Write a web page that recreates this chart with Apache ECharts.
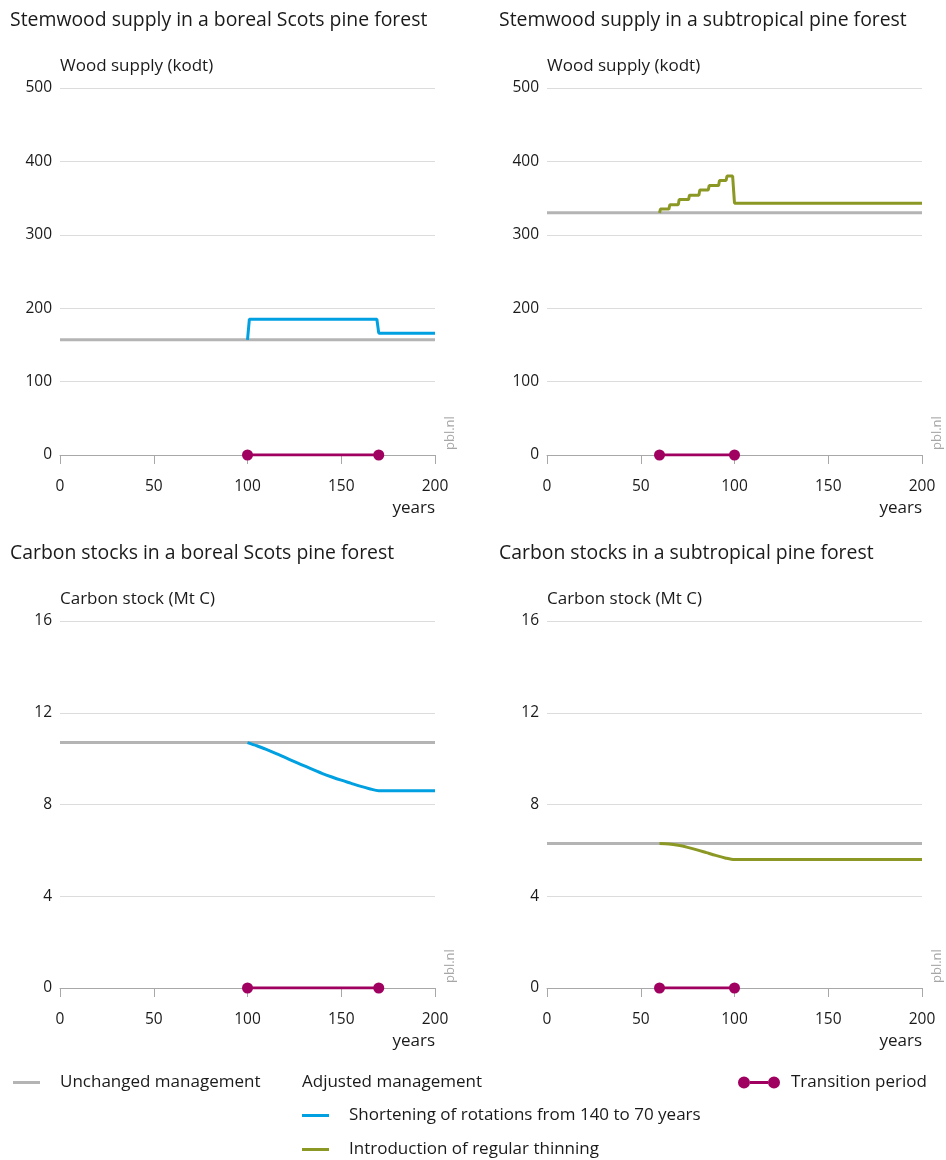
<!DOCTYPE html>
<html>
<head>
<meta charset="utf-8">
<script src="https://cdn.jsdelivr.net/npm/echarts@6/dist/echarts.min.js"></script>
<style>
html,body{margin:0;padding:0;background:#fff;}
#chart{width:946px;height:1160px;}
</style>
</head>
<body>
<div id="chart"></div>
<script>
// ---- data ----
const xTicks = [0, 50, 100, 150, 200];
const supplyTicks = [0, 100, 200, 300, 400, 500];
const carbonTicks = [0, 4, 8, 12, 16];

const titles = [
  'Stemwood supply in a boreal Scots pine forest',
  'Stemwood supply in a subtropical pine forest',
  'Carbon stocks in a boreal Scots pine forest',
  'Carbon stocks in a subtropical pine forest'
];
const seriesNames = ['Unchanged management', 'Shortening of rotations from 140 to 70 years', 'Introduction of regular thinning', 'Transition period'];

// boreal stemwood supply
const borealSupplyUnchangedYears = [0, 200];
const borealSupplyUnchangedValues = [157, 157];
const borealSupplyAdjustedYears = [100, 101, 169, 170, 200];
const borealSupplyAdjustedValues = [157, 185, 185, 166, 166];
const borealTransitionYears = [100, 170];

// subtropical stemwood supply
const subtropSupplyUnchangedYears = [0, 200];
const subtropSupplyUnchangedValues = [330, 330];
const subtropSupplyAdjustedYears = [60, 60.5, 65, 65.5, 70, 70.5, 75.5, 76, 81, 81.5, 86, 86.5, 91.5, 92, 95.5, 96, 99, 100, 200];
const subtropSupplyAdjustedValues = [330, 335, 335, 341, 341, 348, 348, 354, 354, 361, 361, 367, 367, 374, 374, 380, 380, 343, 343];
const subtropTransitionYears = [60, 100];

// boreal carbon stock
const borealCarbonUnchangedYears = [0, 200];
const borealCarbonUnchangedValues = [10.7, 10.7];
const borealCarbonAdjustedYears = [100, 105, 110, 115, 120, 125, 130, 135, 140, 145, 150, 155, 160, 165, 170, 200];
const borealCarbonAdjustedValues = [10.7, 10.56, 10.4, 10.23, 10.05, 9.87, 9.69, 9.52, 9.35, 9.2, 9.06, 8.93, 8.8, 8.69, 8.6, 8.6];

// subtropical carbon stock
const subtropCarbonUnchangedYears = [0, 200];
const subtropCarbonUnchangedValues = [6.3, 6.3];
const subtropCarbonAdjustedYears = [60, 65, 70, 75, 80, 85, 90, 95, 100, 200];
const subtropCarbonAdjustedValues = [6.3, 6.28, 6.22, 6.13, 6.02, 5.9, 5.78, 5.67, 5.6, 5.6];

// ---- styling ----
const FONT = 'Open Sans';
const C_GREY = '#b4b4b4';
const C_BLUE = '#00a0e1';
const C_GREEN = '#8c9824';
const C_MAG = '#a0005f';
const TXT = '#1a1a1a';

const zip = (xs, ys) => xs.map((x, i) => [x, ys[i]]);

const gridPos = [
  {left: 60, top: 88, width: 375, height: 367},
  {left: 547, top: 88, width: 375, height: 367},
  {left: 60, top: 621, width: 375, height: 367},
  {left: 547, top: 621, width: 375, height: 367}
];
const titlePos = [[10, 11], [499, 11], [10, 544], [499, 544]];
const yNames = ['Wood supply (kodt)', 'Wood supply (kodt)', 'Carbon stock (Mt C)', 'Carbon stock (Mt C)'];
const yTickSets = [supplyTicks, supplyTicks, carbonTicks, carbonTicks];

const grids = gridPos.map(g => ({left: g.left, top: g.top, width: g.width, height: g.height, containLabel: false}));

const xAxes = gridPos.map((g, i) => ({
  type: 'value', gridIndex: i, min: xTicks[0], max: xTicks[xTicks.length - 1], interval: xTicks[1] - xTicks[0],
  axisLine: {show: true, lineStyle: {color: '#a8a8a8', width: 1}},
  axisTick: {show: true, length: 9, lineStyle: {color: '#a8a8a8'}},
  axisLabel: {margin: 24, fontFamily: FONT, fontSize: 15.5, color: TXT},
  splitLine: {show: false}
}));

const yAxes = gridPos.map((g, i) => {
  const t = yTickSets[i];
  return {
    type: 'value', gridIndex: i, min: t[0], max: t[t.length - 1], interval: t[1] - t[0],
    name: yNames[i], nameLocation: 'end', nameGap: 13,
    nameTextStyle: {align: 'left', fontFamily: FONT, fontSize: 17, color: TXT},
    axisLine: {show: false}, axisTick: {show: false},
    axisLabel: {margin: 8, fontFamily: FONT, fontSize: 15.5, color: TXT},
    splitLine: {show: true, lineStyle: {color: '#dcdcdc', width: 1}}
  };
});

function lineSeries(name, idx, data, color, z) {
  return {
    name, type: 'line', xAxisIndex: idx, yAxisIndex: idx, data,
    showSymbol: false, symbol: 'none', animation: false,
    lineStyle: {color, width: 3}, itemStyle: {color}, z,
    emphasis: {disabled: true}
  };
}
function transSeries(idx, years) {
  return {
    name: seriesNames[3], type: 'line', xAxisIndex: idx, yAxisIndex: idx,
    data: years.map(y => [y, 0]), symbol: 'circle', symbolSize: 11, showSymbol: true,
    animation: false, lineStyle: {color: C_MAG, width: 3}, itemStyle: {color: C_MAG}, z: 5,
    emphasis: {disabled: true}
  };
}

const series = [
  lineSeries(seriesNames[0], 0, zip(borealSupplyUnchangedYears, borealSupplyUnchangedValues), C_GREY, 2),
  lineSeries(seriesNames[1], 0, zip(borealSupplyAdjustedYears, borealSupplyAdjustedValues), C_BLUE, 3),
  transSeries(0, borealTransitionYears),
  lineSeries(seriesNames[0], 1, zip(subtropSupplyUnchangedYears, subtropSupplyUnchangedValues), C_GREY, 2),
  lineSeries(seriesNames[2], 1, zip(subtropSupplyAdjustedYears, subtropSupplyAdjustedValues), C_GREEN, 3),
  transSeries(1, subtropTransitionYears),
  lineSeries(seriesNames[0], 2, zip(borealCarbonUnchangedYears, borealCarbonUnchangedValues), C_GREY, 2),
  lineSeries(seriesNames[1], 2, zip(borealCarbonAdjustedYears, borealCarbonAdjustedValues), C_BLUE, 3),
  transSeries(2, borealTransitionYears),
  lineSeries(seriesNames[0], 3, zip(subtropCarbonUnchangedYears, subtropCarbonUnchangedValues), C_GREY, 2),
  lineSeries(seriesNames[2], 3, zip(subtropCarbonAdjustedYears, subtropCarbonAdjustedValues), C_GREEN, 3),
  transSeries(3, subtropTransitionYears)
];
series[7].smooth = 0.3;
series[10].smooth = 0.3;

const titleOpts = titles.map((t, i) => ({
  text: t, left: titlePos[i][0], top: titlePos[i][1], padding: 0,
  textStyle: {fontFamily: FONT, fontSize: 19.4, fontWeight: 'normal', color: TXT}
}));

const legendBase = {
  orient: 'horizontal', selectedMode: false, padding: 0, itemHeight: 3, itemWidth: 27,
  textStyle: {fontFamily: FONT, fontSize: 17, color: TXT, padding: [0, 0, 0, 15]}
};
const legends = [
  Object.assign({}, legendBase, {left: 13, top: 1074, data: [{name: seriesNames[0], icon: 'rect'}]}),
  Object.assign({}, legendBase, {left: 302, top: 1107, data: [{name: seriesNames[1], icon: 'rect'}]}),
  Object.assign({}, legendBase, {left: 302, top: 1141, data: [{name: seriesNames[2], icon: 'rect'}]}),
  Object.assign({}, legendBase, {left: 738, top: 1074, itemWidth: 42, itemHeight: 12,
    textStyle: {fontFamily: FONT, fontSize: 17, color: TXT, padding: [0, 0, 0, 6]},
    data: [{name: seriesNames[3], icon: 'path://M6,0 A6,6 0 1,0 6,12 A6,6 0 1,0 6,0 Z M12,4.5 L12,7.5 L30,7.5 L30,4.5 Z M36,0 A6,6 0 1,0 36,12 A6,6 0 1,0 36,0 Z'}]})
];

const graphics = [
  {type: 'text', left: 302, top: 1074, style: {text: 'Adjusted management', font: '17px "' + FONT + '"', fill: TXT}},
];
gridPos.forEach(g => {
  graphics.push({type: 'text', x: g.left + g.width, y: g.top + g.height + 53,
    style: {text: 'years', font: '17px "' + FONT + '"', fill: TXT, align: 'right', verticalAlign: 'middle'}});
  graphics.push({type: 'text', x: g.left + g.width + 15, y: g.top + g.height - 5, rotation: Math.PI / 2,
    style: {text: 'pbl.nl', font: '13px "' + FONT + '"', fill: '#a6a6a6', align: 'left', verticalAlign: 'middle'}});
});

const chart = echarts.init(document.getElementById('chart'), null, {renderer: 'canvas'});
chart.setOption({
  animation: false,
  backgroundColor: '#ffffff',
  title: titleOpts,
  grid: grids,
  xAxis: xAxes,
  yAxis: yAxes,
  legend: legends,
  series,
  graphic: graphics
});
</script>
</body>
</html>
